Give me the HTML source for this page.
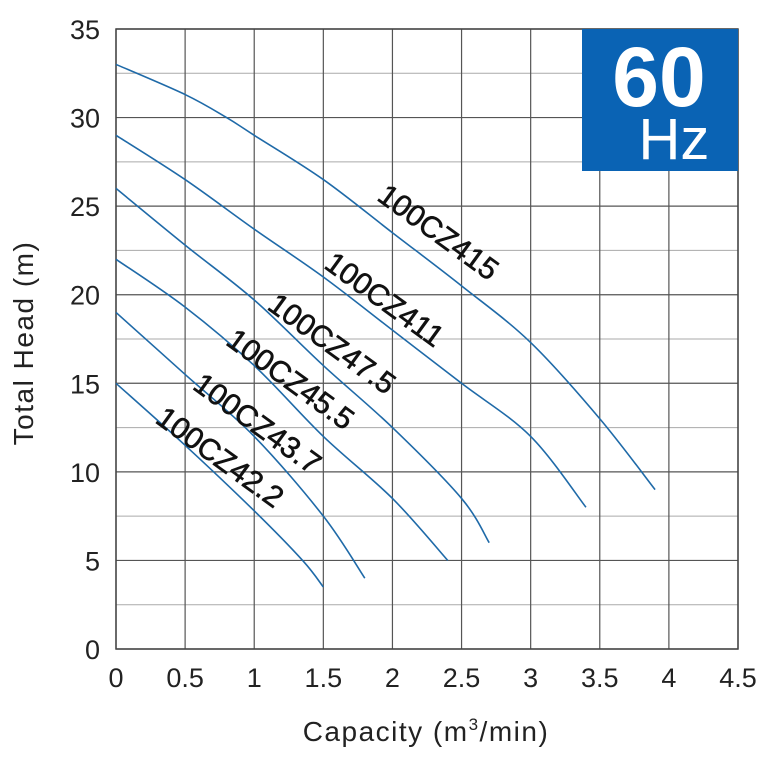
<!DOCTYPE html>
<html><head><meta charset="utf-8"><style>
html,body{margin:0;padding:0;background:#fff;}
svg{display:block;font-family:"Liberation Sans",Arial,sans-serif;}
</style></head><body>
<svg id="chart" width="768" height="768" viewBox="0 0 768 768" xmlns="http://www.w3.org/2000/svg">
<g id="grid"></g>
<g id="curves"></g>
<g id="labels"></g>
<g id="ticks"></g>
<rect x="582" y="29" width="156" height="142" fill="#0a63b4"/>
<text x="659" y="106" font-size="84" font-weight="bold" fill="#fff" text-anchor="middle">60</text>
<text x="674" y="159" font-size="58" fill="#fff" text-anchor="middle">Hz</text>
<text x="426" y="741" font-size="28" fill="#222" text-anchor="middle" letter-spacing="1.5">Capacity (m<tspan font-size="17" dy="-11">3</tspan><tspan dy="11">/min)</tspan></text>
<text transform="translate(33,343) rotate(-90)" font-size="28" fill="#222" text-anchor="middle" letter-spacing="1.5">Total Head (m)</text>
</svg>
<script>
const xTicks=[0,0.5,1,1.5,2,2.5,3,3.5,4,4.5];
const xTickLabels=["0","0.5","1","1.5","2","2.5","3","3.5","4","4.5"];
const yTicks=[0,5,10,15,20,25,30,35];
const yTickLabels=["0","5","10","15","20","25","30","35"];
const seriesNames=["100CZ415","100CZ411","100CZ47.5","100CZ45.5","100CZ43.7","100CZ42.2"];
const q415=[0,0.5,0.8,1,1.5,2,2.5,3,3.5,3.9];
const h415=[33,31.3,30,29,26.5,23.5,20.5,17.3,13,9];
const q411=[0,0.5,1,1.5,2,2.5,3,3.4];
const h411=[29,26.5,23.7,21,18,15,12,8];
const q475=[0,0.5,1,1.5,2,2.5,2.7];
const h475=[26,22.8,19.7,16,12.5,8.5,6];
const q455=[0,0.5,1,1.5,2,2.4];
const h455=[22,19.3,16,12,8.5,5];
const q437=[0,0.5,1,1.5,1.8];
const h437=[19,15.5,12,7.5,4];
const q422=[0,0.5,1,1.35,1.5];
const h422=[15,11.5,7.8,5,3.5];
const labelQ=[2.33,1.94,1.56,1.26,1.02,0.75];
const labelH=[23.5,19.7,17.2,15.2,12.7,10.8];

const NS="http://www.w3.org/2000/svg";
const X0=116,X1=738,Y0=649,Y1=29;
function sx(v){return X0+(v/4.5)*(X1-X0);}
function sy(v){return Y0-(v/35)*(Y0-Y1);}
function mk(tag,attrs,parent){const e=document.createElementNS(NS,tag);for(const k in attrs)e.setAttribute(k,attrs[k]);parent.appendChild(e);return e;}
const grid=document.getElementById('grid');
for(let i=0;i<=14;i++){const v=i*2.5;
 const l=mk('line',{x1:X0,x2:X1,y1:sy(v),y2:sy(v),stroke:(i%2?'#aaa':'#555'),'stroke-width':(i%2?1:1.2)},grid);
 
 }
for(let i=0;i<xTicks.length;i++){
 const l=mk('line',{x1:sx(xTicks[i]),x2:sx(xTicks[i]),y1:Y1,y2:Y0,stroke:'#555','stroke-width':1.2},grid);
 
 }
const frame=mk('rect',{x:X0,y:Y1,width:X1-X0,height:Y0-Y1,fill:'none',stroke:'#444','stroke-width':1.5},grid);


const ticks=document.getElementById('ticks');
for(let i=0;i<xTicks.length;i++){
 const t=mk('text',{x:sx(xTicks[i]),y:687,'font-size':27,fill:'#222','text-anchor':'middle'},ticks);
 t.textContent=xTickLabels[i];
 
 }
for(let i=0;i<yTicks.length;i++){
 const t=mk('text',{x:100,y:sy(yTicks[i])+10,'font-size':27,fill:'#222','text-anchor':'end'},ticks);
 t.textContent=yTickLabels[i];
 
 }
const series=[[q415,h415],[q411,h411],[q475,h475],[q455,h455],[q437,h437],[q422,h422]];
const curves=document.getElementById('curves');
function smooth(pts){let d='M'+pts[0][0]+','+pts[0][1];
 for(let i=0;i<pts.length-1;i++){const p0=pts[i-1]||pts[i],p1=pts[i],p2=pts[i+1],p3=pts[i+2]||p2;
  const c1=[p1[0]+(p2[0]-p0[0])/6,p1[1]+(p2[1]-p0[1])/6],c2=[p2[0]-(p3[0]-p1[0])/6,p2[1]-(p3[1]-p1[1])/6];
  d+=' C'+c1+' '+c2+' '+p2;}
 return d;}
series.forEach((s,k)=>{
 const pts=s[0].map((q,i)=>[sx(q),sy(s[1][i])]);
 const p=mk('path',{d:smooth(pts),fill:'none',stroke:'#1f6aa8','stroke-width':1.6},curves);
 
 
});
const labels=document.getElementById('labels');
seriesNames.forEach((n,k)=>{
 const x=sx(labelQ[k]),y=sy(labelH[k]);
 const t=mk('text',{x:x,y:y,'font-size':30,fill:'#111',stroke:'#111','stroke-width':0.6,'text-anchor':'middle','dominant-baseline':'central',transform:'rotate(36 '+x+' '+y+')'},labels);
 t.textContent=n;
 
 
});
</script>
</body></html>
